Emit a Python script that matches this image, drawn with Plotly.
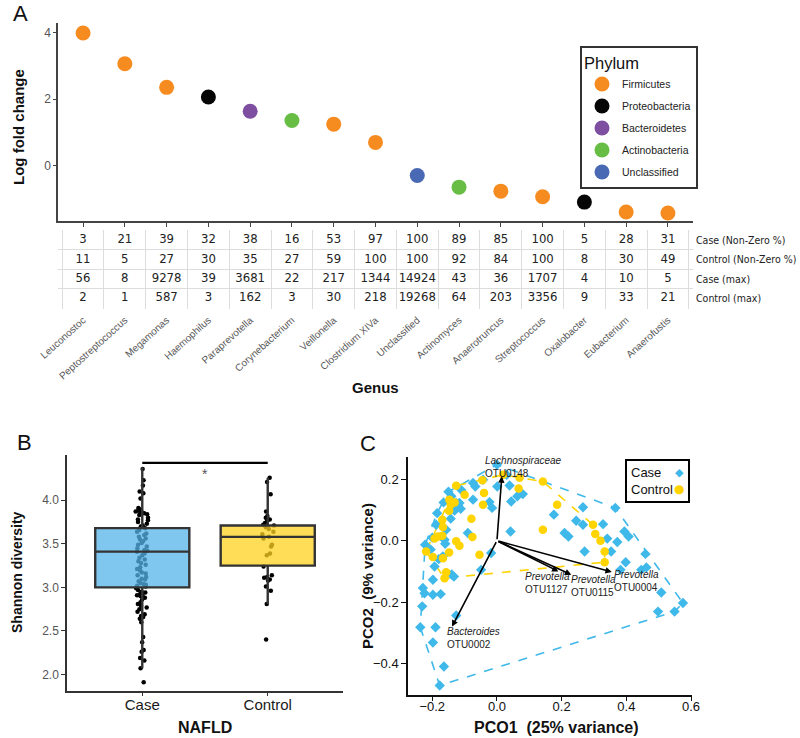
import plotly.graph_objects as go

W, H = 800, 738


def px(x):
    return x / W


def py(y):
    return 1 - y / H


# ---------------- Panel A data ----------------
genus = ["Leuconostoc", "Peptostreptococcus", "Megamonas", "Haemophilus", "Paraprevotella",
         "Corynebacterium", "Veillonella", "Clostridium XIVa", "Unclassified", "Actinomyces",
         "Anaerotruncus", "Streptococcus", "Oxalobacter", "Eubacterium", "Anaerofustis"]
phylum = ["Firmicutes", "Firmicutes", "Firmicutes", "Proteobacteria", "Bacteroidetes",
          "Actinobacteria", "Firmicutes", "Firmicutes", "Unclassified", "Actinobacteria",
          "Firmicutes", "Firmicutes", "Proteobacteria", "Firmicutes", "Firmicutes"]
log_fold_change = [4.0, 3.07, 2.36, 2.07, 1.64, 1.36, 1.25, 0.70, -0.30, -0.65, -0.77, -0.94,
                   -1.10, -1.40, -1.43]
phylum_order = ["Firmicutes", "Proteobacteria", "Bacteroidetes", "Actinobacteria", "Unclassified"]
phylum_colors = {"Firmicutes": "#F68B1F", "Proteobacteria": "#060606", "Bacteroidetes": "#7E4FA1",
                 "Actinobacteria": "#68BD45", "Unclassified": "#4A69B4"}

case_nonzero = [3, 21, 39, 32, 38, 16, 53, 97, 100, 89, 85, 100, 5, 28, 31]
control_nonzero = [11, 5, 27, 30, 35, 27, 59, 100, 100, 92, 84, 100, 8, 30, 49]
case_max = [56, 8, 9278, 39, 3681, 22, 217, 1344, 14924, 43, 36, 1707, 4, 10, 5]
control_max = [2, 1, 587, 3, 162, 3, 30, 218, 19268, 64, 203, 3356, 9, 33, 21]
table_row_labels = ["Case (Non-Zero %)", "Control (Non-Zero %)", "Case (max)", "Control (max)"]

# ---------------- Panel B data ----------------
groups = ["Case", "Control"]
case_shannon = [4.36, 4.23, 4.17, 4.10, 4.08, 4.02, 3.91, 3.90, 3.89, 3.88, 3.87, 3.87, 3.86, 3.85,
                3.84, 3.83, 3.80, 3.78, 3.77, 3.75, 3.73, 3.71, 3.70, 3.68, 3.66, 3.64, 3.62, 3.60,
                3.58, 3.56, 3.55, 3.53, 3.51, 3.49, 3.47, 3.45, 3.43, 3.42, 3.41, 3.39, 3.37, 3.34,
                3.32, 3.30, 3.28, 3.26, 3.23, 3.21, 3.19, 3.17, 3.16, 3.14, 3.12, 3.10, 3.09, 3.07,
                3.05, 3.04, 3.03, 3.02, 3.01, 2.99, 2.97, 2.95, 2.94, 2.93, 2.92, 2.91, 2.90, 2.89,
                2.88, 2.86, 2.83, 2.81, 2.79, 2.77, 2.75, 2.72, 2.69, 2.67, 2.66, 2.64, 2.60, 2.43,
                2.37, 2.28, 2.26, 2.19, 2.16, 2.07, 1.91]
control_shannon = [4.26, 4.21, 4.07, 3.87, 3.82, 3.80, 3.78, 3.76, 3.74, 3.72, 3.71, 3.69, 3.67,
                   3.64, 3.61, 3.58, 3.56, 3.49, 3.47, 3.39, 3.37, 3.24, 3.14, 3.12, 3.11, 3.09,
                   3.08, 3.01, 2.96, 2.81, 2.40]
box_q1 = [3.00, 3.25]
box_median = [3.41, 3.58]
box_q3 = [3.68, 3.71]
box_lower = [2.07, 2.81]
box_upper = [4.38, 4.26]
box_fill = ["rgba(86,180,233,0.75)", "rgba(255,210,30,0.75)"]

# ---------------- Panel C data ----------------
case_pco1 = [0.000, -0.043, -0.067, 0.001, 0.039, 0.080, 0.063, 0.044, -0.023, -0.015, -0.074,
             -0.165, -0.141, -0.126, -0.112, -0.131, -0.120, -0.143, -0.188, -0.157, -0.090,
             -0.222, -0.205, -0.162, -0.167, -0.193, -0.133, -0.140, -0.198, -0.229, -0.224,
             -0.198, -0.174, -0.231, -0.237, -0.190, -0.198, -0.164, -0.177, -0.126, -0.018,
             -0.049, 0.042, 0.176, 0.266, 0.366, 0.245, 0.266, 0.209, 0.221, 0.328, 0.394, 0.407,
             0.341, 0.372, 0.353, 0.271, 0.459, 0.398, 0.382, 0.446, 0.462, 0.508, 0.575, 0.549,
             0.498, -0.116, -0.150, -0.110, -0.185, -0.200, -0.160, -0.180, -0.074, 0.030]
case_pco2 = [0.248, 0.199, 0.177, 0.177, 0.180, 0.152, 0.145, 0.128, 0.126, 0.107, 0.134, 0.125,
             0.145, 0.123, 0.104, 0.098, 0.115, 0.072, 0.052, 0.036, 0.025, -0.013, -0.029, 0.003,
             -0.051, -0.084, -0.117, -0.110, -0.127, -0.154, -0.171, -0.176, -0.174, -0.214,
             -0.282, -0.282, -0.332, -0.410, -0.472, -0.244, -0.040, -0.095, 0.030, 0.085, 0.109,
             0.107, 0.065, 0.052, 0.025, 0.014, 0.054, 0.030, 0.014, 0.007, -0.004, -0.035,
             -0.035, -0.043, -0.070, -0.095, -0.095, -0.087, -0.169, -0.203, -0.231, -0.231,
             0.123, 0.160, 0.165, 0.090, 0.010, -0.010, -0.060, 0.188, 0.215]
control_pco1 = [-0.126, -0.045, -0.100, -0.147, -0.131, -0.143, -0.148, -0.040, -0.043, 0.067,
                0.070, -0.079, -0.169, -0.167, -0.193, -0.182, -0.169, -0.076, -0.126, -0.116,
                -0.219, -0.198, -0.148, -0.054, -0.167, -0.157, -0.162, 0.142, 0.186, 0.142,
                0.297, 0.304, 0.320, 0.333, 0.333, 0.019]
control_pco2 = [0.179, 0.197, 0.150, 0.134, 0.125, 0.117, 0.098, 0.156, 0.117, 0.170, 0.205,
                0.072, 0.068, 0.045, 0.007, 0.014, 0.016, 0.012, -0.002, -0.016, -0.035, -0.053,
                -0.038, -0.046, -0.057, -0.103, -0.122, 0.193, 0.117, 0.036, 0.052, 0.022, 0.000,
                -0.035, -0.070, 0.215]
loading_genus = ["Lachnospiraceae", "Prevotella", "Prevotella", "Prevotella", "Bacteroides"]
loading_otu = ["OTU0148", "OTU1127", "OTU0115", "OTU0004", "OTU0002"]
loading_pco1 = [0.015, 0.190, 0.230, 0.355, -0.139]
loading_pco2 = [0.210, -0.100, -0.111, -0.102, -0.280]

CASE_BLUE = "#3FB8EA"
CTRL_YELLOW = "#FFD400"
SANS = "Liberation Sans, Arial, sans-serif"
NARROW = "Liberation Sans Narrow, DejaVu Sans Condensed, Roboto, sans-serif"


def convex_hull(xs, ys):
    pts = sorted(set(zip(xs, ys)))

    def cross(o, a, b):
        return (a[0] - o[0]) * (b[1] - o[1]) - (a[1] - o[1]) * (b[0] - o[0])

    lower, upper = [], []
    for p in pts:
        while len(lower) >= 2 and cross(lower[-2], lower[-1], p) <= 0:
            lower.pop()
        lower.append(p)
    for p in reversed(pts):
        while len(upper) >= 2 and cross(upper[-2], upper[-1], p) <= 0:
            upper.pop()
        upper.append(p)
    hull = lower[:-1] + upper[:-1]
    hull.append(hull[0])
    return [p[0] for p in hull], [p[1] for p in hull]


fig = go.Figure()

# ---- Panel A scatter ----
for ph in phylum_order:
    xs = [g for g, p in zip(genus, phylum) if p == ph]
    ys = [v for v, p in zip(log_fold_change, phylum) if p == ph]
    fig.add_trace(go.Scatter(x=xs, y=ys, mode="markers", name=ph, legendgroup=ph,
                             marker=dict(size=15, color=phylum_colors[ph]),
                             xaxis="x", yaxis="y", hoverinfo="skip"))

# ---- Table ----
rows = [case_nonzero, control_nonzero, case_max, control_max]
tx, ty, tt = [], [], []
for r, vals in enumerate(rows):
    for i, v in enumerate(vals):
        tx.append(i)
        ty.append(len(rows) - 0.5 - r)
        tt.append(str(v))
fig.add_trace(go.Scatter(x=tx, y=ty, text=tt, mode="text", showlegend=False, hoverinfo="skip",
                         textfont=dict(family=NARROW, size=13, color="#222"),
                         xaxis="x2", yaxis="y2"))

# ---- Panel B points (jittered by plotly) ----
fig.add_trace(go.Box(x=["Case"] * len(case_shannon) + ["Control"] * len(control_shannon),
                     y=case_shannon + control_shannon, boxpoints="all", jitter=0.15, pointpos=0,
                     width=0.75, fillcolor="rgba(0,0,0,0)", line=dict(color="rgba(0,0,0,0)"),
                     marker=dict(color="black", size=4.5), showlegend=False, hoverinfo="skip",
                     xaxis="x3", yaxis="y3"))
# ---- Panel B boxes ----
for i, g in enumerate(groups):
    fig.add_trace(go.Box(x=[g], q1=[box_q1[i]], median=[box_median[i]], q3=[box_q3[i]],
                         lowerfence=[box_lower[i]], upperfence=[box_upper[i]], width=0.75,
                         fillcolor=box_fill[i], line=dict(color="#333333", width=2.4),
                         whiskerwidth=0, boxpoints=False, showlegend=False, hoverinfo="skip",
                         xaxis="x4", yaxis="y4"))

# ---- Panel C ----
hx, hy = convex_hull(case_pco1, case_pco2)
fig.add_trace(go.Scatter(x=hx, y=hy, mode="lines", line=dict(color=CASE_BLUE, width=1.6, dash="dash"),
                         showlegend=False, hoverinfo="skip", xaxis="x5", yaxis="y5"))
hx, hy = convex_hull(control_pco1, control_pco2)
fig.add_trace(go.Scatter(x=hx, y=hy, mode="lines", line=dict(color=CTRL_YELLOW, width=1.6, dash="dash"),
                         showlegend=False, hoverinfo="skip", xaxis="x5", yaxis="y5"))
fig.add_trace(go.Scatter(x=case_pco1, y=case_pco2, mode="markers",
                         marker=dict(symbol="diamond", size=8, color=CASE_BLUE),
                         showlegend=False, hoverinfo="skip", xaxis="x5", yaxis="y5"))
fig.add_trace(go.Scatter(x=control_pco1, y=control_pco2, mode="markers",
                         marker=dict(symbol="circle", size=8.5, color=CTRL_YELLOW),
                         showlegend=False, hoverinfo="skip", xaxis="x5", yaxis="y5"))

annotations = []
shapes = []

# arrows + labels in C
label_shift = [(-19, 9), (-35, -12), (-2, -11), (0, -9), (-7, -11)]
for i in range(len(loading_otu)):
    annotations.append(dict(x=loading_pco1[i], y=loading_pco2[i], ax=0, ay=0, xref="x5", yref="y5",
                            axref="x5", ayref="y5", showarrow=True, arrowhead=2, arrowsize=0.8,
                            arrowwidth=1.6, arrowcolor="black", text="", standoff=0))
    sx, sy = label_shift[i]
    annotations.append(dict(x=loading_pco1[i], y=loading_pco2[i], xref="x5", yref="y5",
                            showarrow=False, xanchor="left", yanchor="middle", align="left",
                            xshift=sx, yshift=sy,
                            text="<i>%s</i><br>%s" % (loading_genus[i], loading_otu[i]),
                            font=dict(family=SANS, size=10, color="#222")))

# table row labels
for r, lab in enumerate(table_row_labels):
    annotations.append(dict(x=px(694), y=len(table_row_labels) - 0.5 - r, xref="paper", yref="y2",
                            text=lab, showarrow=False, xanchor="left", yanchor="middle",
                            font=dict(family=NARROW, size=10.5, color="#222")))

# significance bar
shapes.append(dict(type="line", xref="x3", yref="y3", x0=0, x1=1, y0=4.43, y1=4.43,
                   line=dict(color="black", width=2.2)))
annotations.append(dict(x=0.5, y=4.43, xref="x3", yref="y3", text="*", showarrow=False,
                        xanchor="center", yanchor="top", yshift=-1,
                        font=dict(family=SANS, size=14, color="#555")))


def txt(x, y, s, size, bold=False, angle=0, color="#111", xanchor="center", family=SANS):
    return dict(x=px(x), y=py(y), xref="paper", yref="paper", showarrow=False, textangle=angle,
                xanchor=xanchor, yanchor="middle",
                text=("<b>%s</b>" % s) if bold else s,
                font=dict(family=family, size=size, color=color))


# C legend
shapes.append(dict(type="rect", xref="paper", yref="paper", x0=px(626), x1=px(689), y0=py(502),
                   y1=py(460), line=dict(color="black", width=2), fillcolor="white", layer="above"))
annotations += [
    txt(629, 472, "Case", 13, xanchor="left"),
    txt(629, 489, "Control", 13, xanchor="left"),
    txt(679, 472, "◆", 11, color=CASE_BLUE, family="DejaVu Sans"),
    txt(679, 489, "●", 12, color=CTRL_YELLOW, family="DejaVu Sans"),
]

annotations += [
    txt(20, 14, "A", 22), txt(24, 442, "B", 22), txt(368, 443, "C", 22),
    txt(18, 127, "Log fold change", 15, True, -90),
    txt(375, 387, "Genus", 15, True),
    txt(17, 572, "Shannon diversity", 14, True, -90),
    txt(205, 727, "NAFLD", 16, True),
    txt(367, 576, "PCO2\u00a0 (9% variance)", 15, True, -90),
    txt(556, 727, "PCO1\u00a0 (25% variance)", 16, True),
]

axis_common = dict(showgrid=False, zeroline=False, showline=True, linewidth=1.5, automargin=False)

fig.update_layout(
    width=W, height=H, margin=dict(l=0, r=0, t=0, b=0, pad=0, autoexpand=False),
    paper_bgcolor="white", plot_bgcolor="white",
    font=dict(family=SANS, color="#333"),
    boxmode="overlay",
    xaxis=dict(domain=[px(58), px(693)], anchor="y", type="category", categoryorder="array",
               categoryarray=genus, range=[-0.6, 14.6], showticklabels=False, ticks="outside",
               ticklen=4, tickcolor="#444", linecolor="#444", **axis_common),
    yaxis=dict(domain=[py(221), py(23)], anchor="x", range=[-1.67, 4.3], tickvals=[0, 2, 4],
               ticks="outside", ticklen=3, tickcolor="#444", linecolor="#444",
               tickfont=dict(size=12, color="#555"), **axis_common),
    xaxis2=dict(domain=[px(58), px(693)], anchor="y2", range=[-0.6, 14.6],
                tickvals=list(range(len(genus))), ticktext=genus, tickangle=-42,
                tickfont=dict(size=10, color="#5a5a5a"), ticks="", showline=False, zeroline=False,
                showgrid=False, ticklabelstandoff=3, automargin=False,
                minor=dict(tickvals=[i - 0.5 for i in range(len(genus) + 1)], showgrid=True,
                           gridcolor="#DDDDDD", gridwidth=1, ticks="")),
    yaxis2=dict(domain=[py(308.5), py(229.5)], anchor="x2", range=[-0.03, 4.03],
                tickvals=[0, 1, 2, 3, 4], showticklabels=False, ticks="", showgrid=True,
                gridcolor="#DDDDDD", gridwidth=1, zeroline=False, showline=False, automargin=False),
    xaxis3=dict(domain=[px(67), px(343)], anchor="y3", type="category", categoryorder="array",
                categoryarray=groups, range=[-0.6, 1.6], ticks="outside", ticklen=3,
                ticklabelstandoff=-4,
                tickcolor="#333", linecolor="#333", tickfont=dict(size=15, color="#1a1a1a"),
                **axis_common),
    yaxis3=dict(domain=[py(691), py(455)], anchor="x3", range=[1.81, 4.52],
                tickvals=[2, 2.5, 3, 3.5, 4], ticktext=["2.0", "2.5", "3.0", "3.5", "4.0"],
                ticks="outside", ticklen=4, tickcolor="#333", linecolor="#333",
                tickfont=dict(size=12, color="#555"), **axis_common),
    xaxis4=dict(overlaying="x3", anchor="y4", type="category", categoryorder="array",
                categoryarray=groups, range=[-0.6, 1.6], visible=False, automargin=False),
    yaxis4=dict(overlaying="y3", anchor="x4", range=[1.81, 4.52], visible=False, automargin=False),
    xaxis5=dict(domain=[px(408), px(692)], anchor="y5", range=[-0.275, 0.603],
                tickvals=[-0.2, 0, 0.2, 0.4, 0.6], tickformat=".1f", ticks="outside", ticklen=4,
                ticklabelstandoff=-5,
                tickcolor="#111", linecolor="#111", tickfont=dict(size=13, color="#111"),
                **axis_common),
    yaxis5=dict(domain=[py(695), py(457)], anchor="x5", range=[-0.503, 0.273],
                tickvals=[-0.4, -0.2, 0, 0.2], tickformat=".1f", ticks="outside", ticklen=5,
                tickcolor="#111", linecolor="#111", tickfont=dict(size=13, color="#111"),
                **axis_common),
    legend=dict(x=px(580), y=py(46), xanchor="left", yanchor="top", bgcolor="white",
                bordercolor="#333", borderwidth=2, tracegroupgap=3, itemsizing="trace",
                title=dict(text="Phylum", font=dict(family=SANS, size=16.5, color="#111")),
                font=dict(family=SANS, size=10.5, color="#222")),
    annotations=annotations,
    shapes=shapes,
)

fig.write_html("out.html", config={"displayModeBar": False},
               post_script="document.body.style.margin='0px';")
